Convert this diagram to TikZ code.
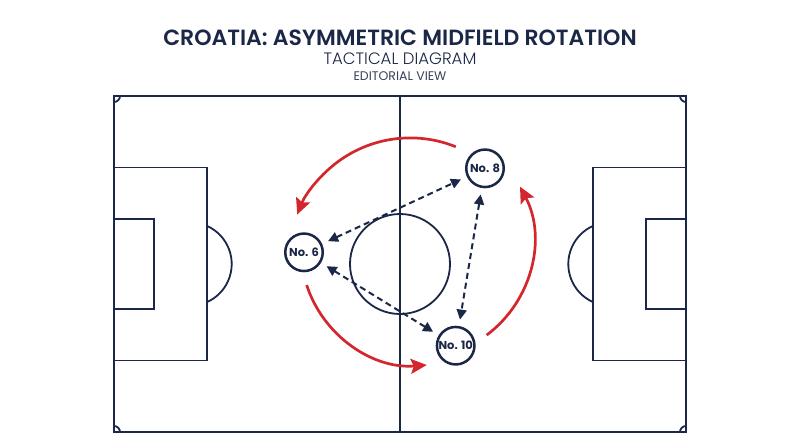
\documentclass[tikz,border=0pt]{standalone}
\usepackage{fontspec}
\setmainfont{Poppins}
\newfontfamily\poplight{Poppins Light}
\newfontfamily\popsemi{Poppins SemiBold}
\usetikzlibrary{arrows.meta}
\definecolor{navy}{HTML}{1B2747}
\definecolor{redc}{HTML}{D3262D}
\definecolor{grayn}{HTML}{3A4258}
\begin{document}
\begin{tikzpicture}[x=1pt,y=-1pt,
  pitch/.style={draw=navy,line width=1.8pt},
  player/.style={circle,draw=navy,line width=2.5pt,fill=white,minimum size=37.5pt,inner sep=0pt,
    text=navy,font=\bfseries\fontsize{11.5}{13}\selectfont},
  dasharrow/.style={draw=navy,line width=2pt,dash pattern=on 6pt off 4pt,
    {Triangle[length=10pt,width=10pt]}-{Triangle[length=10pt,width=10pt]},shorten <=6.5pt,shorten >=6.5pt},
  redarrow/.style={draw=redc,line width=2.7pt,-{Stealth[length=16pt,width=15pt,inset=3pt]}}]
\useasboundingbox (0,0) rectangle (800,447);
% titles
\node[text=navy,font=\popsemi\fontsize{22}{26}\selectfont] (title) at (400,37.5) {CROATIA: ASYMMETRIC MIDFIELD ROTATION};
\node[text=navy,font=\poplight\fontsize{16.5}{19}\selectfont] (sub) at (400,58.7) {TACTICAL DIAGRAM};
\node[text=grayn,font=\fontsize{12.5}{15}\selectfont] (ed) at (400,75.8) {EDITORIAL VIEW};
% pitch
\draw[pitch] (114,96) rectangle (686,432);
\draw[pitch] (400,96) -- (400,432);
\draw[pitch] (400,264) circle[radius=50];
\draw[pitch] (114,167.5) rectangle (207,360.5);
\draw[pitch] (593,167.5) rectangle (686,360.5);
\draw[pitch] (114,219) rectangle (154,309);
\draw[pitch] (646,219) rectangle (686,309);
\draw[pitch] (190,264) ++(-65.9:41.7) arc[start angle=-65.9,end angle=65.9,radius=41.7];
\draw[pitch] (610,264) ++(114.1:41.7) arc[start angle=114.1,end angle=245.9,radius=41.7];
\draw[pitch] (114,96) ++(0:6) arc[start angle=0,end angle=90,radius=6];
\draw[pitch] (686,96) ++(90:6) arc[start angle=90,end angle=180,radius=6];
\draw[pitch] (686,432) ++(180:6) arc[start angle=180,end angle=270,radius=6];
\draw[pitch] (114,432) ++(270:6) arc[start angle=270,end angle=360,radius=6];
% rotation arcs
\coordinate (c1) at (410.2,259.5);
\coordinate (c2) at (417.4,248.9);
\coordinate (c3) at (416.6,241.4);
\draw[redarrow] (c1) ++(-68:121.6) arc[start angle=-68,end angle=-158.3,radius=121.6];
\draw[redarrow] (c2) ++(161.9:116.5) arc[start angle=161.9,end angle=85.4,radius=116.5];
\draw[redarrow] (c3) ++(53.2:117) arc[start angle=53.2,end angle=-27.9,radius=117];
% players
\node[player] (p6) at (304,252.3) {No. 6};
\node[player] (p8) at (485,168.3) {No. 8};
\node[player] (p10) at (455.7,345.7) {No. 10};
% passing lanes
\draw[dasharrow] (p6) -- (p8);
\draw[dasharrow] (p6) -- (p10);
\draw[dasharrow] (p8) -- (p10);
\end{tikzpicture}
\end{document}
